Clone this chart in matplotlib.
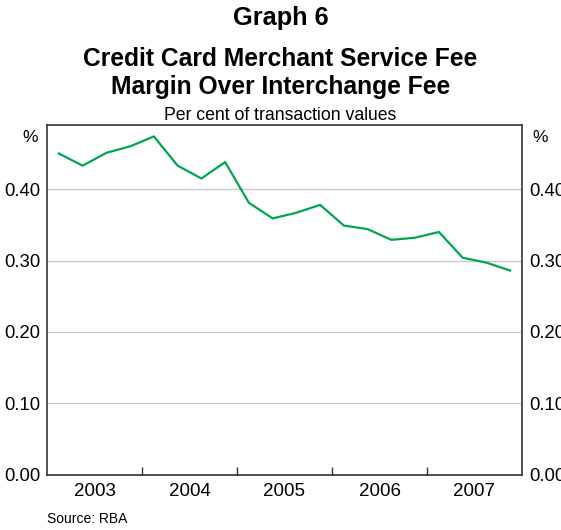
import matplotlib
matplotlib.use("Agg")
import matplotlib.pyplot as plt
import numpy as np

plt.rcParams['font.family'] = ['Liberation Sans', 'DejaVu Sans']

years = [2003, 2004, 2005, 2006, 2007]
# Quarterly margin (per cent of transaction values), 2003 Q1 .. 2007 Q4
margin = [0.450, 0.433, 0.451, 0.460, 0.474,
          0.433, 0.415, 0.438, 0.381, 0.359,
          0.367, 0.378, 0.349, 0.344, 0.329,
          0.332, 0.340, 0.304, 0.297, 0.286]
yticks = [0.00, 0.10, 0.20, 0.30, 0.40]

x = years[0] + (np.arange(len(margin)) + 0.5) / 4.0

fig = plt.figure(figsize=(5.61, 5.30), dpi=100)
ax = fig.add_axes([47/561, 1 - 474.5/530, (522 - 47)/561, (474.5 - 125)/530])

ax.plot(x, margin, color='#00a651', lw=1.6, zorder=3)

ax.set_xlim(years[0], years[-1] + 1)
ax.set_ylim(0, 0.49)

ax.set_yticks(yticks)
ax.set_yticklabels([f"{v:.2f}" for v in yticks])
ax.yaxis.grid(True, color='#c8c8c8', lw=1)
ax.set_axisbelow(True)
ax.tick_params(axis='y', length=0, labelsize=13.3, pad=5, labelright=True, right=False)

ax.set_xticks([y + 0.5 for y in years])
ax.set_xticklabels([str(y) for y in years])
ax.set_xticks([y for y in years[1:]], minor=True)
ax.tick_params(axis='x', which='major', length=0, labelsize=13.5, pad=6)
ax.tick_params(axis='x', which='minor', direction='in', length=6, width=1, color='#333333')

for s in ax.spines.values():
    s.set_color('#333333')
    s.set_linewidth(1.2)

fig.text(0.5, 1 - 18/530, "Graph 6", ha='center', va='center', fontsize=18.3, fontweight='bold')
fig.text(0.5, 1 - 59/530, "Credit Card Merchant Service Fee", ha='center', va='center', fontsize=17.7, fontweight='bold')
fig.text(0.5, 1 - 87/530, "Margin Over Interchange Fee", ha='center', va='center', fontsize=17.7, fontweight='bold')
fig.text(0.5, 1 - 115/530, "Per cent of transaction values", ha='center', va='center', fontsize=12.7)
fig.text(30/561, 1 - 137/530, "%", ha='center', va='center', fontsize=12.5)
fig.text(540/561, 1 - 137/530, "%", ha='center', va='center', fontsize=12.5)
fig.text(47/561, 1 - 519/530, "Source: RBA", ha='left', va='center', fontsize=10)

fig.savefig("out.png", dpi=100)
